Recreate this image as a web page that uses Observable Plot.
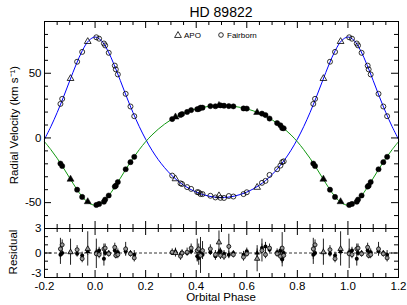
<!DOCTYPE html>
<html><head><meta charset="utf-8">
<script src="https://cdn.jsdelivr.net/npm/d3@7"></script>
<script src="https://cdn.jsdelivr.net/npm/@observablehq/plot@0.6"></script>
<style>
body{margin:0;background:#fff;font-family:"Liberation Sans",Arial,Helvetica,sans-serif;}
#wrap{position:relative;width:407px;height:305px;overflow:hidden;background:#fff;}
.abs{position:absolute;white-space:nowrap;color:#000;}
#main,#resid{position:absolute;left:0;}
#main{top:0;}
#resid{top:227px;}
</style></head><body>
<div id="wrap">
  <div id="main"></div>
  <div id="resid"></div>
  <div class="abs" id="title" style="left:121px;width:200px;top:3px;line-height:18px;font-size:14px;text-align:center;"></div>
  <div class="abs" id="ylab" style="left:13px;top:125px;font-size:11.5px;transform:translate(-50%,-50%) rotate(-90deg);"></div>
  <div class="abs" id="rlab" style="left:13px;top:252px;font-size:11.5px;transform:translate(-50%,-50%) rotate(-90deg);"></div>
  <div class="abs" id="xlab" style="left:221px;top:297px;font-size:11.5px;transform:translate(-50%,-50%);"></div>
  <svg class="abs" id="legend" style="left:172px;top:29px;" width="100" height="12"></svg>
</div>
<script>
// ---------- text ----------
const titleText = "HD 89822";
const yLabelText = "Radial Velocity (km s\u207B\u00B9)";
const residLabelText = "Residual";
const xLabelText = "Orbital Phase";
const legendNames = ["APO", "Fairborn"];

// ---------- ticks ----------
const xMajor = [-0.2, 0.0, 0.2, 0.4, 0.6, 0.8, 1.0, 1.2];
const xMinor = [-0.15, -0.1, -0.05, 0.05, 0.1, 0.15, 0.25, 0.3, 0.35, 0.45, 0.5, 0.55, 0.65, 0.7, 0.75, 0.85, 0.9, 0.95, 1.05, 1.1, 1.15];
const yMajor = [-50, 0, 50];
const yMinor = [-70, -60, -40, -30, -20, -10, 10, 20, 30, 40, 60, 70, 80, 90];
const rMajor = [-3, 0, 3];
const rMinor = [-2, -1, 1, 2];

// ---------- orbit curves ----------
const curvePhase = [-0.2,-0.175,-0.15,-0.125,-0.1,-0.075,-0.05,-0.025,0,0.025,0.05,0.075,0.1,0.125,0.15,0.175,0.2,0.225,0.25,0.275,0.3,0.325,0.35,0.375,0.4,0.425,0.45,0.475,0.5,0.525,0.55,0.575,0.6,0.625,0.65,0.675,0.7,0.725,0.75,0.775,0.8,0.825,0.85,0.875,0.9,0.925,0.95,0.975,1.0,1.025,1.05,1.075,1.1,1.125,1.15,1.175,1.2];
const curvePrimary = [-1.0,8.7,19.6,31.6,44.3,56.7,67.6,75.2,78.0,75.2,67.6,56.7,44.3,31.6,19.6,8.7,-1.0,-9.5,-16.8,-23.0,-28.3,-32.8,-36.5,-39.5,-41.9,-43.7,-45.0,-45.8,-46.0,-45.8,-45.0,-43.7,-41.9,-39.5,-36.5,-32.8,-28.3,-23.0,-16.8,-9.5,-1.0,8.7,19.6,31.6,44.3,56.7,67.6,75.2,78.0,75.2,67.6,56.7,44.3,31.6,19.6,8.7,-1.0];
const curveSecondary = [-2.9,-9.0,-15.7,-23.2,-31.1,-38.8,-45.6,-50.3,-52.0,-50.3,-45.6,-38.8,-31.1,-23.2,-15.7,-9.0,-2.9,2.3,6.8,10.7,14.0,16.8,19.1,21.0,22.5,23.6,24.4,24.9,25.0,24.9,24.4,23.6,22.5,21.0,19.1,16.8,14.0,10.7,6.8,2.3,-2.9,-9.0,-15.7,-23.2,-31.1,-38.8,-45.6,-50.3,-52.0,-50.3,-45.6,-38.8,-31.1,-23.2,-15.7,-9.0,-2.9];

// ---------- observations ----------
const obsPhase = [0.005,0.016,0.035,0.040,0.054,0.078,0.082,0.090,0.121,0.140,0.155,
  0.863,0.870,0.903,0.929,0.949,0.971,
  0.305,0.318,0.338,0.344,0.364,0.380,0.404,0.410,0.417,0.425,0.456,0.476,0.490,0.496,0.510,0.529,0.547,0.587,0.600,0.641,0.660,0.674,0.690,0.720,0.733,0.740,0.746];
const obsSource = ["Fairborn","Fairborn","Fairborn","Fairborn","Fairborn","Fairborn","Fairborn","Fairborn","Fairborn","Fairborn","Fairborn",
  "Fairborn","Fairborn","APO","Fairborn","Fairborn","APO",
  "Fairborn","APO","Fairborn","Fairborn","Fairborn","Fairborn","Fairborn","Fairborn","Fairborn","Fairborn","Fairborn","Fairborn","APO","Fairborn","Fairborn","Fairborn","Fairborn","Fairborn","Fairborn","APO","Fairborn","Fairborn","Fairborn","Fairborn","Fairborn","Fairborn","Fairborn"];
const rvPrimary = [77.8,76.7,73.0,71.5,65.8,55.9,53.0,49.1,34.1,24.3,16.8,
  26.3,30.2,45.9,58.9,66.5,74.5,
  -29.1,-31.6,-35.1,-35.6,-38.0,-39.4,-41.9,-42.1,-43.4,-43.4,-44.7,-46.0,-44.7,-46.3,-46.4,-44.9,-45.3,-43.4,-42.0,-38.2,-34.7,-33.2,-28.6,-24.2,-21.4,-18.7,-18.1];
const rvSecondary = [-51.8,-51.0,-49.3,-47.6,-44.5,-37.6,-36.9,-34.1,-24.2,-18.7,-14.6,
  -19.8,-21.7,-31.9,-40.0,-45.6,-49.3,
  14.6,16.2,17.8,18.5,20.1,21.5,22.2,22.3,23.4,23.4,24.6,24.5,25.1,25.2,24.9,24.6,24.4,22.8,22.7,19.7,18.8,17.7,15.0,11.5,9.8,7.6,7.5];
const resPrimary = [-0.1,-0.2,0.5,0.6,-0.1,0.7,-0.3,-0.2,0.5,-0.1,-0.6,
  0.5,1.0,0.1,0.4,-0.7,0.5,
  0.1,0.0,-0.4,0.0,0.1,0.6,0.3,0.5,-0.3,0.3,0.5,-0.2,1.3,-0.3,-0.4,0.8,-0.2,-0.5,-0.1,-0.7,0.3,-0.2,0.6,-0.1,-0.4,0.6,-0.3];
const errPrimary = [1.8,0.5,0.6,0.5,0.4,0.5,0.4,0.5,0.8,0.4,0.5,
  1.3,0.6,1.6,0.5,0.5,2.1,
  0.4,0.5,0.5,0.4,0.5,0.5,1.4,0.6,2.2,1.1,0.5,0.5,1.4,0.5,0.5,1.5,0.4,0.5,0.4,1.6,1.4,0.5,0.5,0.4,0.5,1.9,0.5];
const resSecondary = [0.1,0.3,-0.7,0.0,0.0,0.3,-0.3,0.1,0.2,0.0,-0.2,
  -0.2,0.0,0.1,-0.1,-0.3,0.2,
  0.0,0.2,-0.2,0.0,0.0,0.2,-0.4,-0.6,0.2,-0.2,0.1,-0.4,0.1,0.2,-0.1,-0.2,0.0,-0.2,0.2,0.0,0.6,0.8,0.4,0.1,0.3,-0.8,0.0];
const errSecondary = [0.4,0.4,0.9,0.4,0.3,0.4,0.4,0.4,0.6,0.3,0.5,
  1.2,0.4,0.5,0.4,0.4,0.5,
  0.3,0.4,0.4,0.3,0.3,0.4,0.6,0.9,0.5,0.4,0.4,0.5,0.4,0.4,0.4,0.4,0.3,0.4,0.4,0.5,0.5,0.5,0.4,0.4,0.4,0.9,0.4];

// ---------- build tables ----------
const rows = [];
obsPhase.forEach((p, i) => {
  const shifts = [0];
  if (p < 0.2) shifts.push(1);
  if (p > 0.8) shifts.push(-1);
  for (const s of shifts) rows.push({
    phase: p + s, src: obsSource[i],
    v1: rvPrimary[i], v2: rvSecondary[i],
    r1: resPrimary[i], e1: errPrimary[i],
    r2: resSecondary[i], e2: errSecondary[i]
  });
});
const curve = curvePhase.map((p, i) => ({phase: p, v1: curvePrimary[i], v2: curveSecondary[i]}));

const BLUE = "#0000ff", GREEN = "#119911";
const FONT = "'Liberation Sans', Arial, Helvetica, sans-serif";
const W = 407, ML = 44, MR = 9, PW = W - ML - MR;
const style = {fontFamily: FONT, fontSize: "11.5px", background: "transparent", color: "black", overflow: "visible"};

function frameTicks(PH, yMin, yMaj) {
  const minL = 4, majL = 7, sw = 1;
  return [
    Plot.tickX(xMinor, {x: d => d, insetBottom: PH - minL, stroke: "black", strokeWidth: sw}),
    Plot.tickX(xMinor, {x: d => d, insetTop: PH - minL, stroke: "black", strokeWidth: sw}),
    Plot.tickX(xMajor, {x: d => d, insetBottom: PH - majL, stroke: "black", strokeWidth: sw}),
    Plot.tickX(xMajor, {x: d => d, insetTop: PH - majL, stroke: "black", strokeWidth: sw}),
    Plot.tickY(yMin, {y: d => d, insetRight: PW - minL, stroke: "black", strokeWidth: sw}),
    Plot.tickY(yMin, {y: d => d, insetLeft: PW - minL, stroke: "black", strokeWidth: sw}),
    Plot.tickY(yMaj, {y: d => d, insetRight: PW - majL, stroke: "black", strokeWidth: sw}),
    Plot.tickY(yMaj, {y: d => d, insetLeft: PW - majL, stroke: "black", strokeWidth: sw})
  ];
}

const symbolScale = {domain: legendNames, range: ["triangle", "circle"]};

// ---------- main panel ----------
const mainH = 229, mT = 21, mB = 1, PHm = mainH - mT - mB;
const mainPlot = Plot.plot({
  width: W, height: mainH, marginLeft: ML, marginRight: MR, marginTop: mT, marginBottom: mB,
  x: {domain: [-0.2, 1.2], axis: null},
  y: {domain: [-70, 90]},
  symbol: symbolScale,
  style,
  marks: [
    Plot.line(curve, {x: "phase", y: "v1", stroke: BLUE, strokeWidth: 1, curve: "catmull-rom"}),
    Plot.line(curve, {x: "phase", y: "v2", stroke: GREEN, strokeWidth: 1, curve: "catmull-rom"}),
    Plot.dot(rows, {x: "phase", y: "v2", symbol: "src", fill: "black", stroke: "black", strokeWidth: 0.5, r: 2.6}),
    Plot.dot(rows, {x: "phase", y: "v1", symbol: "src", fill: "none", stroke: "black", strokeWidth: 0.8, r: 2.5}),
    Plot.axisY({ticks: yMajor, anchor: "left", tickSize: 0, tickPadding: 3, tickFormat: d => String(d), label: null}),
    ...frameTicks(PHm, yMinor, yMajor),
    Plot.frame({stroke: "black", strokeWidth: 1})
  ]
});
document.getElementById("main").appendChild(mainPlot);

// ---------- residual panel ----------
const resH = 78, rT = 1, rB = 28, PHr = resH - rT - rB;
const residPlot = Plot.plot({
  width: W, height: resH, marginLeft: ML, marginRight: MR, marginTop: rT, marginBottom: rB,
  x: {domain: [-0.2, 1.2]},
  y: {domain: [-3, 3]},
  symbol: symbolScale,
  style,
  marks: [
    Plot.ruleY([0], {stroke: "black", strokeWidth: 0.8, strokeDasharray: "3,2"}),
    Plot.ruleX(rows, {x: "phase", y1: d => d.r1 - d.e1, y2: d => d.r1 + d.e1, stroke: "#222", strokeWidth: 1}),
    Plot.ruleX(rows, {x: "phase", y1: d => d.r2 - d.e2, y2: d => d.r2 + d.e2, stroke: "#222", strokeWidth: 1}),
    Plot.dot(rows, {x: "phase", y: "r2", symbol: "src", fill: "black", r: 2}),
    Plot.dot(rows, {x: "phase", y: "r1", symbol: "src", fill: "#999", stroke: "black", strokeWidth: 0.8, r: 2}),
    Plot.axisY({ticks: [0, 3], anchor: "left", tickSize: 0, tickPadding: 3, tickFormat: d => String(d), label: null}),
    Plot.axisY({ticks: [-3], anchor: "left", tickSize: 0, tickPadding: 3, dy: -4, tickFormat: d => String(d), label: null}),
    Plot.axisX({ticks: xMajor, anchor: "bottom", tickSize: 0, tickPadding: 4, tickFormat: d => d.toFixed(1), label: null}),
    ...frameTicks(PHr, rMinor, rMajor),
    Plot.frame({stroke: "black", strokeWidth: 1})
  ]
});
document.getElementById("resid").appendChild(residPlot);

// ---------- labels ----------
document.getElementById("title").textContent = titleText;
document.getElementById("ylab").textContent = yLabelText;
document.getElementById("rlab").textContent = residLabelText;
document.getElementById("xlab").textContent = xLabelText;

// ---------- legend ----------
const lg = d3.select("#legend");
const tri = d3.symbol(d3.symbolTriangle, 20)();
const cir = d3.symbol(d3.symbolCircle, 17)();
lg.append("path").attr("d", tri).attr("transform", "translate(6,6.5)").attr("fill", "none").attr("stroke", "black").attr("stroke-width", 0.8);
lg.append("text").attr("x", 12).attr("y", 9).attr("font-size", 8).attr("font-family", FONT).text(legendNames[0]);
lg.append("path").attr("d", cir).attr("transform", "translate(49,6)").attr("fill", "none").attr("stroke", "black").attr("stroke-width", 0.8);
lg.append("text").attr("x", 55).attr("y", 9).attr("font-size", 8).attr("font-family", FONT).text(legendNames[1]);
</script>
</body></html>
